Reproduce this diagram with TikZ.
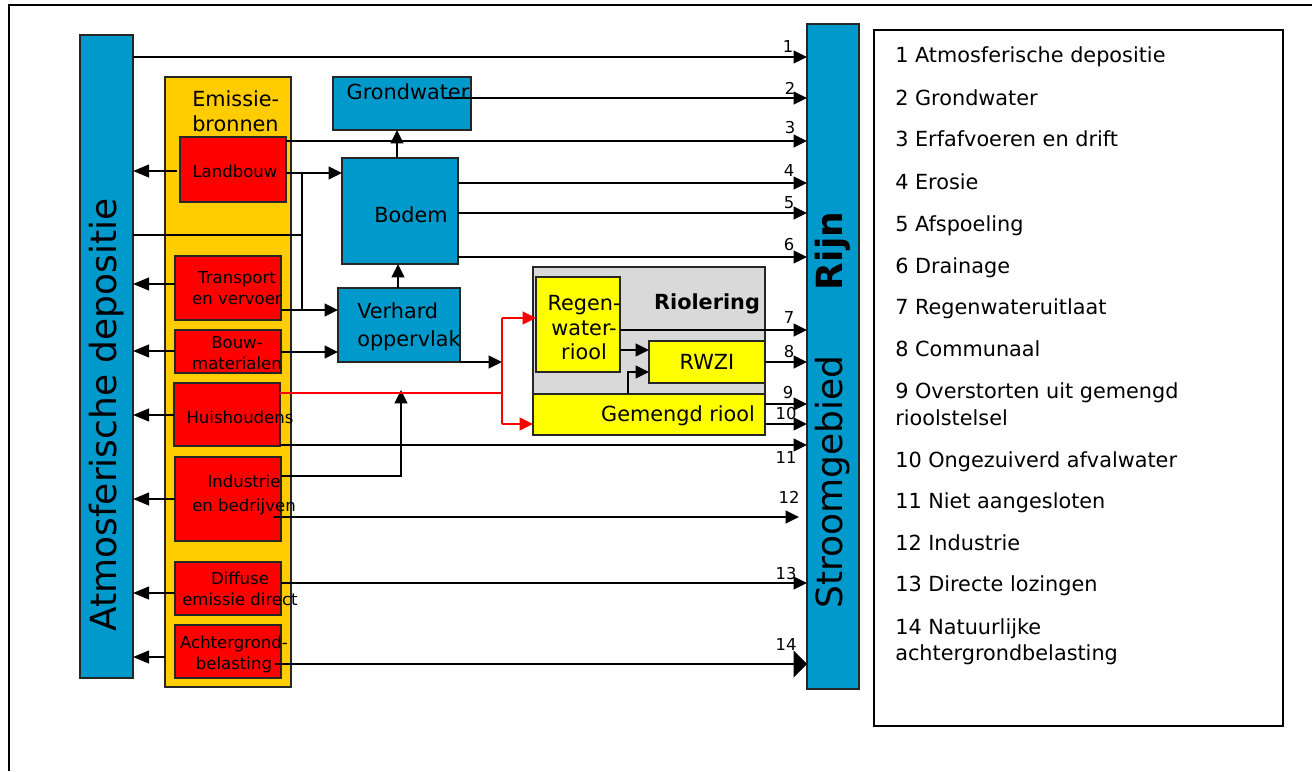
\documentclass[tikz,border=0pt]{standalone}
\usepackage{fontspec}
\setmainfont{DejaVu Sans}
\usetikzlibrary{arrows.meta,fit}
\definecolor{cblue}{RGB}{0,153,204}
\definecolor{corange}{RGB}{255,204,0}
\definecolor{cred}{RGB}{255,0,0}
\definecolor{cyel}{RGB}{255,255,0}
\definecolor{cgray}{RGB}{217,217,217}
\begin{document}
\begin{tikzpicture}[x=0.75pt,y=-0.75pt,
  box/.style={draw=black!85, line width=1.4pt, inner sep=0pt, outer sep=0pt},
  bluebox/.style={box, fill=cblue},
  redbox/.style={box, fill=cred},
  yelbox/.style={box, fill=cyel},
  ln/.style={line width=1.5pt},
  arr/.style={line width=1.5pt, -{Triangle[length=10pt,width=9.5pt]}},
  larr/.style={line width=1.5pt, -{Triangle[length=12pt,width=9.5pt]}},
  bigarr/.style={line width=1.5pt, -{Triangle[length=10pt,width=20pt]}},
  redln/.style={draw=cred, line width=1.2pt},
  redarr/.style={draw=cred, line width=1.2pt, -{Triangle[length=10pt,width=9.5pt]}},
  small/.style={font=\fontsize{12.4pt}{15.75pt}\selectfont, inner sep=0pt, align=center},
  mid/.style={font=\fontsize{15.6pt}{18.4pt}\selectfont, inner sep=0pt, align=center},
  num/.style={font=\fontsize{12.3pt}{14pt}\selectfont, inner sep=0pt},
  big/.style={font=\fontsize{27pt}{32pt}\selectfont, inner sep=0pt, rotate=90},
  leg/.style={font=\fontsize{15.6pt}{20pt}\selectfont, inner sep=0pt, anchor=base west},
]
\useasboundingbox (0,0) rectangle (1312,771);
% outer frame
\draw[line width=1.5pt] (9,771) -- (9,5) -- (1312,5);

% side bars
\node[bluebox, fit={(80,35) (133,678)}] (atm) {};
\node[big] (atmtxt) at (107,415) {Atmosferische depositie};
\node[bluebox, fit={(807,24) (859,689)}] (rijn) {};
\node[big, font=\fontsize{27pt}{32pt}\selectfont\bfseries] (rijntxt) at (833,251) {Rijn};
\node[big] (stroomtxt) at (833,482) {Stroomgebied};

% emission sources
\node[box, fill=corange, fit={(165,77) (291,687)}] (emis) {};
\node[mid, align=left, anchor=west] (emistxt) at (192,111) {Emissie-\\bronnen};
\node[redbox, fit={(180,137) (286,202)}] (land) {};
\node[small] (landtxt) at (235,171) {Landbouw};
\node[redbox, fit={(175,256) (281,320)}] (trans) {};
\node[small] (transtxt) at (237,288) {Transport\\en vervoer};
\node[redbox, fit={(175,330) (281,373)}] (bouw) {};
\node[small] (bouwtxt) at (237,353) {Bouw-\\materialen};
\node[redbox, fit={(174,383) (280,446)}] (huis) {};
\node[small] (huistxt) at (240,417) {Huishoudens};
\node[redbox, fit={(175,457) (281,541)}] (ind) {};
\node[small] (indtxt) at (244,495) {Industrie\\[2.5pt]en bedrijven};
\node[redbox, fit={(175,562) (281,615)}] (diff) {};
\node[small] (difftxt) at (240,589) {Diffuse\\emissie direct};
\node[redbox, fit={(175,625) (281,678)}] (acht) {};
\node[small] (achttxt) at (234,654) {Achtergrond-\\belasting};

% compartments
\node[bluebox, fit={(333,77) (471,130)}] (gw) {};
\node[mid] (gwtxt) at (408,92) {Grondwater};
\node[bluebox, fit={(342,158) (458,264)}] (bodem) {};
\node[mid] (bodemtxt) at (411,215) {Bodem};
\node[bluebox, fit={(338,288) (460,362)}] (verh) {};
\node[mid, align=left, anchor=west, font=\fontsize{15.6pt}{21pt}\selectfont] (verhtxt) at (357,327) {Verhard\\oppervlak};

% riolering
\node[box, fill=cgray, fit={(533,267) (765,435)}] (riol) {};
\node[mid, anchor=base, font=\fontsize{15.6pt}{18pt}\selectfont\bfseries] (rioltxt) at (707,309) {Riolering};
\node[yelbox, fit={(536,277) (620,372)}] (regen) {};
\node[mid] (regentxt) at (584,328) {Regen-\\water-\\riool};
\node[yelbox, fit={(649,341) (765,383)}] (rwzi) {};
\node[mid] (rwzitxt) at (707,362) {RWZI};
\node[yelbox, fit={(533,394) (765,435)}] (gem) {};
\node[mid, anchor=base] (gemtxt) at (678,421) {Gemengd riool};

% arrow end points on the Rijn bar
\coordinate (r1) at (807,57);
\coordinate (r2) at (807,98);
\coordinate (r3) at (807,141);
\coordinate (r4) at (807,183);
\coordinate (r5) at (807,213);
\coordinate (r6) at (807,257);
\coordinate (r7) at (807,330);
\coordinate (r8) at (807,362);
\coordinate (r9) at (807,404);
\coordinate (r10) at (807,424);
\coordinate (r11) at (807,445);
\coordinate (r12) at (799,517);
\coordinate (r13) at (807,583);
\coordinate (r14) at (807,664);
\coordinate (knee) at (302,173);
\coordinate (split) at (502,362);
\coordinate (redjoin) at (502,393);
\coordinate (up) at (401,476);

% flows to the Rijn
\draw[arr] (atm.east |- r1) -- (r1);
\draw[arr] (445,98) -- (r2);
\draw[arr] (land.east |- r3) -- (r3);
\draw[arr] (bodem.east |- r4) -- (r4);
\draw[arr] (bodem.east |- r5) -- (r5);
\draw[arr] (bodem.east |- r6) -- (r6);
\draw[arr] (regen.east |- r7) -- (r7);
\draw[arr] (rwzi.east |- r8) -- (r8);
\draw[arr] (gem.east |- r9) -- (r9);
\draw[arr] (gem.east |- r10) -- (r10);
\draw[arr] (huis.east |- r11) -- (r11);
\draw[arr] (273,517) -- (r12);
\draw[arr] (diff.east |- r13) -- (r13);
\draw[bigarr] (275,664) -- (r14);

% flow numbers
\node[num] (n1) at (788,47) {1};
\node[num] (n2) at (790,88) {2};
\node[num] (n3) at (790,128) {3};
\node[num] (n4) at (789,171) {4};
\node[num] (n5) at (789,203) {5};
\node[num] (n6) at (789,245) {6};
\node[num] (n7) at (789,318) {7};
\node[num] (n8) at (789,352) {8};
\node[num] (n9) at (788,393) {9};
\node[num] (n10) at (786,414) {10};
\node[num] (n11) at (786,458) {11};
\node[num] (n12) at (789,497) {12};
\node[num] (n13) at (786,574) {13};
\node[num] (n14) at (786,645) {14};

% emissions to the atmosphere
\draw[larr] (177,171) -- (atm.east |- 0,171);
\draw[larr] (trans.west |- 0,284) -- (atm.east |- 0,284);
\draw[larr] (bouw.west |- 0,351) -- (atm.east |- 0,351);
\draw[larr] (huis.west |- 0,415) -- (atm.east |- 0,415);
\draw[larr] (ind.west |- 0,499) -- (atm.east |- 0,499);
\draw[larr] (diff.west |- 0,593) -- (atm.east |- 0,593);
\draw[larr] (emis.west |- 0,657) -- (atm.east |- 0,657);

% internal flows
\draw[arr] (land.east |- knee) -- (bodem.west |- knee);
\draw[ln] (knee) -- (302,310);
\draw[ln] (atm.east |- 0,235) -- (302,235);
\draw[arr] (trans.east |- 0,310) -- (verh.west |- 0,310);
\draw[arr] (bouw.east |- 0,352) -- (verh.west |- 0,352);
\draw[arr] (bodem.north -| 397,0) -- (gw.south -| 397,0);
\draw[arr] (verh.north -| 398,0) -- (bodem.south -| 398,0);
\draw[arr] (verh.south east) -- (split);
\draw[arr] (ind.east |- up) -- (up) -- (401,390);
\draw[redln] (huis.east |- redjoin) -- (redjoin);
\draw[redln] (502,318) -- (502,424);
\draw[redarr] (502,318) -- (regen.west |- 0,318);
\draw[redarr] (502,424) -- (gem.west |- 0,424);
\draw[arr] (regen.east |- 0,350) -- (rwzi.west |- 0,350);
\draw[arr] (628,394) -- (628,372) -- (rwzi.west |- 0,372);

% legend
\node[draw, line width=1.5pt, fit={(874,30) (1283,726)}, inner sep=0pt] (legend) {};
\node[leg] (l1) at (895,62) {1 Atmosferische depositie};
\node[leg] (l2) at (895,105) {2 Grondwater};
\node[leg] (l3) at (895,146) {3 Erfafvoeren en drift};
\node[leg] (l4) at (895,189) {4 Erosie};
\node[leg] (l5) at (895,231) {5 Afspoeling};
\node[leg] (l6) at (895,273) {6 Drainage};
\node[leg] (l7) at (895,314) {7 Regenwateruitlaat};
\node[leg] (l8) at (895,356) {8 Communaal};
\node[leg] (l9a) at (895,398) {9 Overstorten uit gemengd};
\node[leg] (l9b) at (895,425) {rioolstelsel};
\node[leg] (l10) at (895,467) {10 Ongezuiverd afvalwater};
\node[leg] (l11) at (895,508) {11 Niet aangesloten};
\node[leg] (l12) at (895,550) {12 Industrie};
\node[leg] (l13) at (895,591) {13 Directe lozingen};
\node[leg] (l14a) at (895,634) {14 Natuurlijke};
\node[leg] (l14b) at (895,660) {achtergrondbelasting};
\end{tikzpicture}
\end{document}
